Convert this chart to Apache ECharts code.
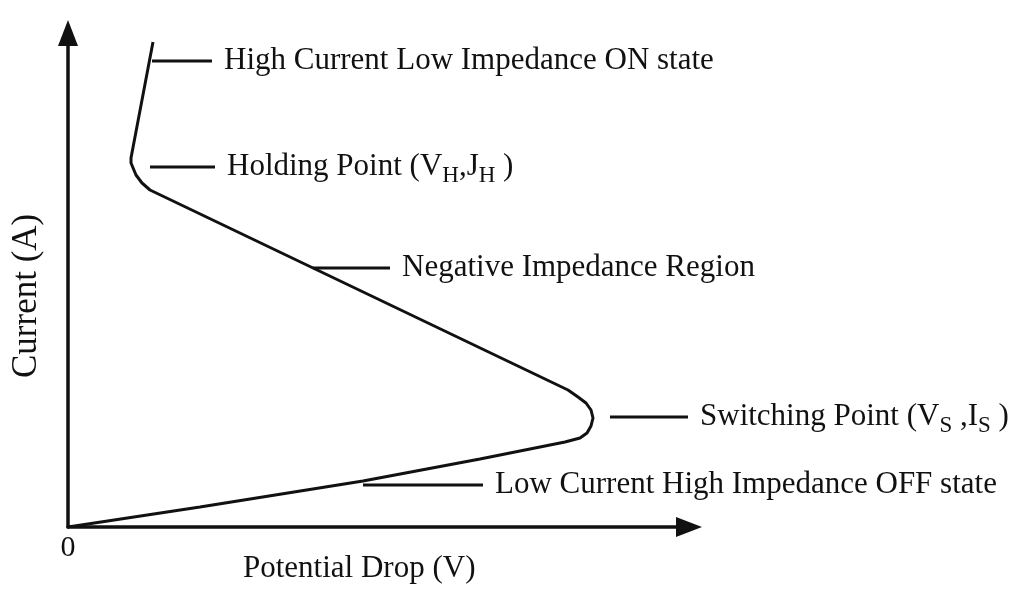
<!DOCTYPE html>
<html>
<head>
<meta charset="utf-8">
<title>Thyristor I-V characteristic</title>
<script src="https://cdn.jsdelivr.net/npm/echarts@6/dist/echarts.min.js"></script>
<style>
  html, body { margin: 0; padding: 0; background: #fff; }
  #chart { width: 1022px; height: 592px; }
</style>
</head>
<body>
<div id="chart"></div>
<script>
// schematic I-V curve, units are arbitrary
const curvePoints = [
  [0, 0], [132, 20], [295, 46], [412, 68], [497, 85], [512, 89],
  [519, 94], [523, 101], [525, 109], [523, 117], [518, 124], [510, 130],
  [500, 137], [82, 337], [74, 344], [68, 352], [63, 364], [63, 369],
  [85, 485]
]

// leader lines pointing at the regions of the curve
const leaderStarts = [[84, 466], [82, 360], [245, 259], [542, 110], [295, 42]]
const leaderEnds = [[144, 466], [147, 360], [322, 259], [620, 110], [415, 42]]
const leaderLabels = [
  'High Current Low Impedance ON state',
  'Holding Point (V{s|H},J{s|H} )',
  'Negative Impedance Region',
  'Switching Point (V{s|S} ,I{s|S} )',
  'Low Current High Impedance OFF state'
]

const xName = 'Potential Drop (V)'
const yName = 'Current (A)'
const xMax = 621
const yMax = 494

const ink = '#111'
const serif = "'Liberation Serif', 'DejaVu Serif', serif"

const chart = echarts.init(document.getElementById('chart'))

const leaderSeries = leaderStarts.map((start, i) => ({
  type: 'line',
  data: [start, leaderEnds[i]],
  showSymbol: false,
  symbol: 'none',
  silent: true,
  lineStyle: { color: ink, width: 3 },
  endLabel: {
    show: true,
    distance: 12,
    formatter: leaderLabels[i],
    color: ink,
    fontFamily: serif,
    fontSize: 31,
    lineHeight: 40,
    rich: {
      s: { fontSize: 23, lineHeight: 22, verticalAlign: 'bottom', color: ink, fontFamily: serif }
    }
  },
  z: 3
}))

const axisArrow = {
  onZero: false,
  symbol: ['none', 'triangle'],
  symbolSize: [20, 26],
  lineStyle: { color: ink, width: 3.5 }
}

const option = {
  backgroundColor: '#fff',
  animation: false,
  grid: { left: 68, right: 333, top: 33, bottom: 65 },
  xAxis: {
    type: 'value',
    min: 0,
    max: xMax,
    interval: xMax,
    splitLine: { show: false },
    axisTick: { show: false },
    axisLine: axisArrow,
    axisLabel: {
      margin: 6,
      color: ink,
      fontFamily: serif,
      fontSize: 30,
      formatter: v => (v === 0 ? '0' : '')
    }
  },
  yAxis: {
    type: 'value',
    min: 0,
    max: yMax,
    interval: yMax,
    splitLine: { show: false },
    axisTick: { show: false },
    axisLabel: { show: false },
    axisLine: axisArrow
  },
  graphic: [
    {
      type: 'text',
      left: 243,
      top: 553,
      style: { text: xName, fill: ink, font: '31px ' + serif }
    },
    {
      type: 'text',
      x: 9,
      y: 378,
      rotation: Math.PI / 2,
      style: { text: yName, fill: ink, font: '35px ' + serif }
    }
  ],
  series: [
    {
      type: 'line',
      data: curvePoints,
      showSymbol: false,
      symbol: 'none',
      silent: true,
      lineStyle: { color: ink, width: 3 },
      z: 4
    },
    ...leaderSeries
  ]
}

chart.setOption(option)
</script>
</body>
</html>
